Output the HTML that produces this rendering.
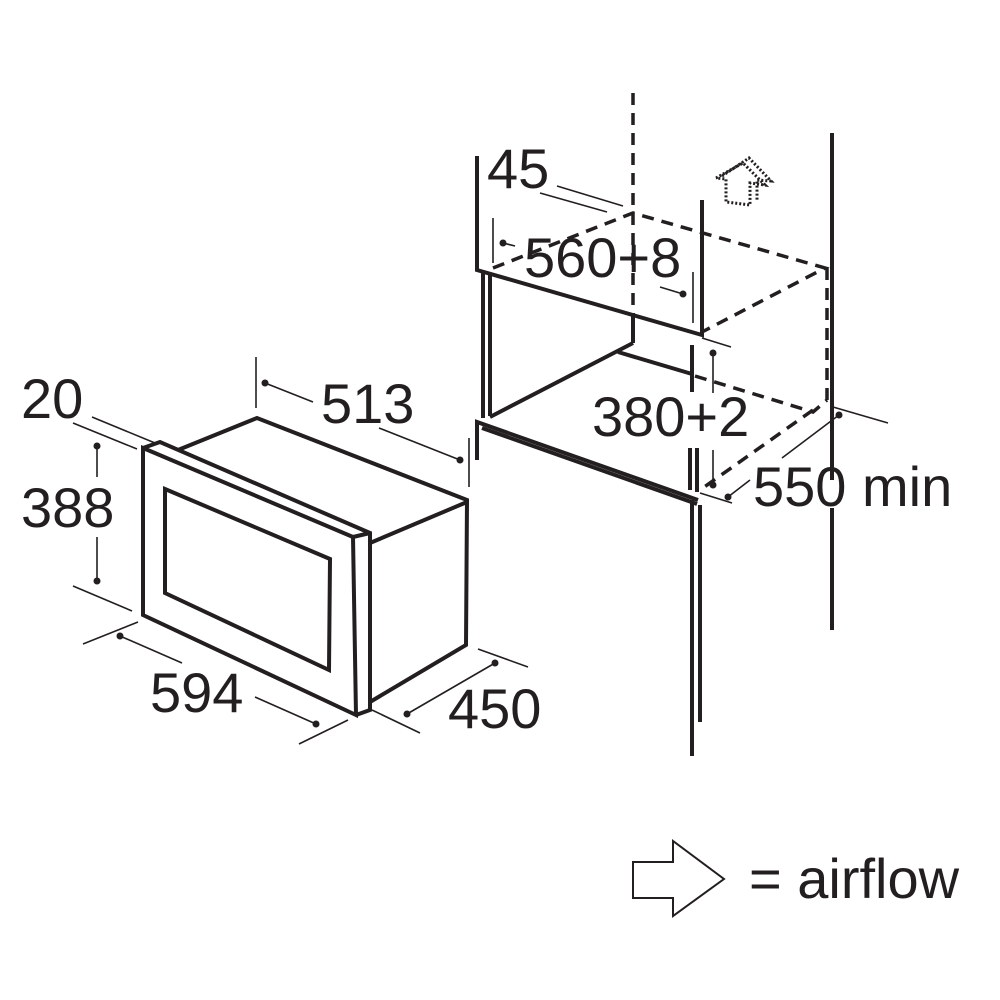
<!DOCTYPE html>
<html><head><meta charset="utf-8"><style>
html,body{margin:0;padding:0;background:#fff;}
svg{display:block;}
text{font-family:"Liberation Sans",Arial,sans-serif;fill:#231f20;}
</style></head><body>
<svg width="1000" height="1000" viewBox="0 0 1000 1000" xmlns="http://www.w3.org/2000/svg">
<g stroke="#231f20" fill="none" stroke-linecap="butt" stroke-linejoin="miter">
<!-- Microwave -->
<g stroke-width="4">
<polygon points="143,448 353,537 356,715 143,615"/>
<polyline points="143,448 160,442 370,533 370,710 356,715"/>
<line x1="353" y1="537" x2="370" y2="533"/>
<polygon points="165,489 330,559 329,670 165,593"/>
<polyline points="178,450 257,418 467,500 466,645 370,702"/>
<line x1="370" y1="543" x2="467" y2="502"/>
</g>
<!-- microwave dimensions -->
<g stroke-width="1.6">
<line x1="256" y1="357" x2="256" y2="408"/>
<line x1="265" y1="383" x2="313" y2="402"/>
<line x1="379" y1="428" x2="460" y2="460"/>
<line x1="469" y1="438" x2="469" y2="487"/>
<line x1="92" y1="417" x2="155" y2="443"/>
<line x1="73" y1="423" x2="137" y2="449"/>
<line x1="97" y1="446" x2="97" y2="477"/>
<line x1="97" y1="537" x2="97" y2="581"/>
<line x1="73" y1="586" x2="132" y2="611"/>
<line x1="83" y1="644" x2="138" y2="622"/>
<line x1="120" y1="636" x2="182" y2="663"/>
<line x1="255" y1="697" x2="316" y2="724"/>
<line x1="299" y1="744" x2="348" y2="720"/>
<line x1="372" y1="710" x2="420" y2="733"/>
<line x1="407" y1="714" x2="495" y2="663"/>
<line x1="478" y1="649" x2="528" y2="667"/>
</g>
<!-- Cabinet solid -->
<g stroke-width="4">
<polyline points="477,156 477,270 702,335 702,200"/>
<line x1="483" y1="272" x2="483" y2="418"/>
<line x1="490" y1="275" x2="490" y2="416"/>
<line x1="633" y1="313" x2="633" y2="343"/>
<line x1="633" y1="343" x2="490" y2="417"/>
<line x1="618" y1="352" x2="692" y2="374"/>
<polyline points="477,460 477,422 698,500"/>
<line x1="482" y1="428" x2="697" y2="504"/>
<line x1="692" y1="500" x2="692" y2="756"/>
<line x1="700" y1="505" x2="700" y2="722"/>
<line x1="692" y1="345" x2="692" y2="392"/>
<line x1="690" y1="448" x2="690" y2="490"/>
<line x1="697" y1="448" x2="697" y2="492"/>
<line x1="832" y1="133" x2="832" y2="480"/>
<line x1="832" y1="508" x2="832" y2="630"/>
</g>
<!-- Cabinet dashed -->
<g stroke-width="3.5" stroke-dasharray="12,8">
<line x1="633" y1="93" x2="633" y2="313"/>
<polyline points="493,268 633,213 825,268 702,332"/>
<line x1="827" y1="268" x2="827" y2="400"/>
<polyline points="695,376 813,412 827,400"/>
<line x1="813" y1="410" x2="700" y2="490"/>
</g>
<!-- cabinet dimensions -->
<g stroke-width="1.6">
<line x1="557" y1="186" x2="623" y2="206"/>
<line x1="540" y1="193" x2="607" y2="212"/>
<line x1="493" y1="218" x2="493" y2="263"/>
<line x1="503" y1="243" x2="515" y2="246"/>
<line x1="660" y1="287" x2="683" y2="294"/>
<line x1="693" y1="272" x2="693" y2="323"/>
<line x1="702" y1="338" x2="731" y2="347"/>
<line x1="713" y1="353" x2="713" y2="393"/>
<line x1="713" y1="450" x2="713" y2="485"/>
<line x1="833" y1="407" x2="888" y2="423"/>
<line x1="839" y1="415" x2="782" y2="458"/>
<line x1="728" y1="497" x2="750" y2="480"/>
<line x1="700" y1="493" x2="732" y2="503"/>
</g>
<!-- dotted airflow arrow -->
<g stroke-width="3" stroke-dasharray="2,2">
<polyline points="716,178 743,163 765,185 750,183 750,205 726,202 726,179 716,178"/>
<polyline points="722,176 749,158 771,181 757,180 757,201"/>
</g>
<!-- legend arrow -->
<polygon stroke-width="2" points="633,862 673,862 673,841 724,879 673,916 673,898 633,898"/>
</g>
<g fill="#231f20">
<circle cx="265" cy="383" r="3.5"/><circle cx="460" cy="460" r="3.5"/>
<circle cx="97" cy="446" r="3.5"/><circle cx="97" cy="581" r="3.5"/>
<circle cx="120" cy="636" r="3.5"/><circle cx="316" cy="724" r="3.5"/>
<circle cx="407" cy="714" r="3.5"/><circle cx="495" cy="663" r="3.5"/>
<circle cx="503" cy="243" r="3.5"/><circle cx="683" cy="294" r="3.5"/>
<circle cx="713" cy="353" r="3.5"/><circle cx="713" cy="485" r="3.5"/>
<circle cx="839" cy="415" r="3.5"/><circle cx="728" cy="497" r="3.5"/>
</g>
<g font-size="56">
<text x="21" y="418">20</text>
<text x="21" y="527">388</text>
<text x="321" y="423">513</text>
<text x="150" y="712">594</text>
<text x="448" y="728">450</text>
<text x="487" y="188">45</text>
<text x="524" y="277">560+8</text>
<text x="592" y="436">380+2</text>
<text x="753" y="506">550 min</text>
<text x="749" y="898" font-size="56">= airflow</text>
</g>
</svg>
</body></html>
